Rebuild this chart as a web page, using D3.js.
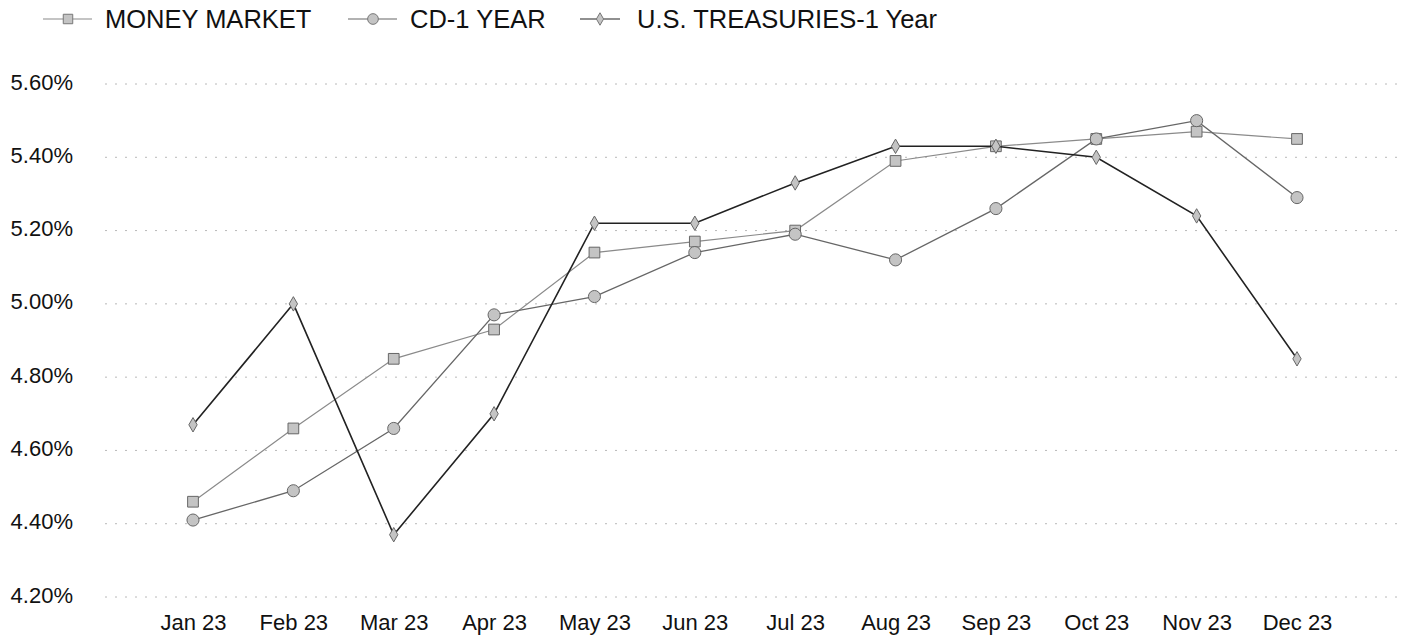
<!DOCTYPE html>
<html lang="en">
<head>
    <meta charset="UTF-8">
    <title>Rates 2023</title>
    <style>
        body { margin: 0; background: #fff; }
        svg { display: block; font-family: "Liberation Sans", Arial, sans-serif; }
    </style>
</head>
<body>
    <svg width="1408" height="642"></svg>

    <script src="https://d3js.org/d3.v7.min.js"></script>
    <script>
        // data
        const months = ["Jan 23", "Feb 23", "Mar 23", "Apr 23", "May 23", "Jun 23",
            "Jul 23", "Aug 23", "Sep 23", "Oct 23", "Nov 23", "Dec 23"];
        const moneyMarket = [4.46, 4.66, 4.85, 4.93, 5.14, 5.17, 5.20, 5.39, 5.43, 5.45, 5.47, 5.45];
        const cd1Year = [4.41, 4.49, 4.66, 4.97, 5.02, 5.14, 5.19, 5.12, 5.26, 5.45, 5.50, 5.29];
        const treasuries1Year = [4.67, 5.00, 4.37, 4.70, 5.22, 5.22, 5.33, 5.43, 5.43, 5.40, 5.24, 4.85];
        const yTicks = [4.2, 4.4, 4.6, 4.8, 5.0, 5.2, 5.4, 5.6];

        const series = [
            { name: "MONEY MARKET", values: moneyMarket, symbol: d3.symbolSquare, line: "#8a8a8a", width: 1.2 },
            { name: "CD-1 YEAR", values: cd1Year, symbol: d3.symbolCircle, line: "#666", width: 1.3 },
            { name: "U.S. TREASURIES-1 Year", values: treasuries1Year, symbol: d3.symbolDiamond, line: "#222", width: 1.6 }
        ];

        const svg = d3.select("svg");

        const x = d3.scalePoint().domain(months).range([193, 1297]);
        const y = d3.scaleLinear().domain([4.2, 5.6]).range([597, 84]);

        // dotted gridlines
        svg.append("g")
            .selectAll("line")
            .data(yTicks)
            .join("line")
            .attr("x1", 105)
            .attr("x2", 1400)
            .attr("y1", d => y(d))
            .attr("y2", d => y(d))
            .attr("stroke", "#b8b8b8")
            .attr("stroke-width", 1)
            .attr("stroke-dasharray", "2,8");

        // y axis labels
        const yAxis = d3.axisLeft(y).tickValues(yTicks).tickSize(0).tickPadding(0)
            .tickFormat(d => d.toFixed(2) + "%");
        svg.append("g")
            .attr("transform", "translate(73,-2)")
            .call(yAxis)
            .call(g => g.select(".domain").remove())
            .selectAll("text")
            .attr("font-size", 22)
            .attr("font-family", "Liberation Sans, Arial, sans-serif")
            .attr("fill", "#111");

        // x axis labels
        const xAxis = d3.axisBottom(x).tickSize(0).tickPadding(0);
        svg.append("g")
            .attr("transform", "translate(0,614)")
            .call(xAxis)
            .call(g => g.select(".domain").remove())
            .selectAll("text")
            .attr("font-size", 22)
            .attr("font-family", "Liberation Sans, Arial, sans-serif")
            .attr("fill", "#111");

        const line = d3.line()
            .x((d, i) => x(months[i]))
            .y(d => y(d));

        series.forEach(s => {
            svg.append("path")
                .datum(s.values)
                .attr("fill", "none")
                .attr("stroke", s.line)
                .attr("stroke-width", s.width)
                .attr("d", line);

            svg.append("g")
                .selectAll("path")
                .data(s.values)
                .join("path")
                .attr("transform", (d, i) => `translate(${x(months[i])},${y(d)})`)
                .attr("d", d3.symbol().type(s.symbol).size(s.symbol === d3.symbolDiamond ? 60 : 115))
                .attr("fill", "#c4c4c4")
                .attr("stroke", "#666")
                .attr("stroke-width", 1);
        });

        // legend
        const legendX = [43, 348, 580];
        const legend = svg.append("g")
            .selectAll("g")
            .data(series)
            .join("g")
            .attr("transform", (d, i) => `translate(${legendX[i]},19)`);

        legend.append("line")
            .attr("x1", 0)
            .attr("x2", (d, i) => i === 2 ? 40 : 49)
            .attr("stroke", d => d.line)
            .attr("stroke-width", 1.2);

        legend.append("path")
            .attr("transform", (d, i) => `translate(${i === 2 ? 20 : 25},0)`)
            .attr("d", d => d3.symbol().type(d.symbol).size(d.symbol === d3.symbolDiamond ? 45 : 90)())
            .attr("fill", "#c4c4c4")
            .attr("stroke", "#777");

        legend.append("text")
            .attr("x", (d, i) => i === 2 ? 57 : 62)
            .attr("y", 0)
            .attr("dy", "0.35em")
            .attr("font-size", 25.5)
            .attr("fill", "#111")
            .text(d => d.name);
    </script>
</body>
</html>
